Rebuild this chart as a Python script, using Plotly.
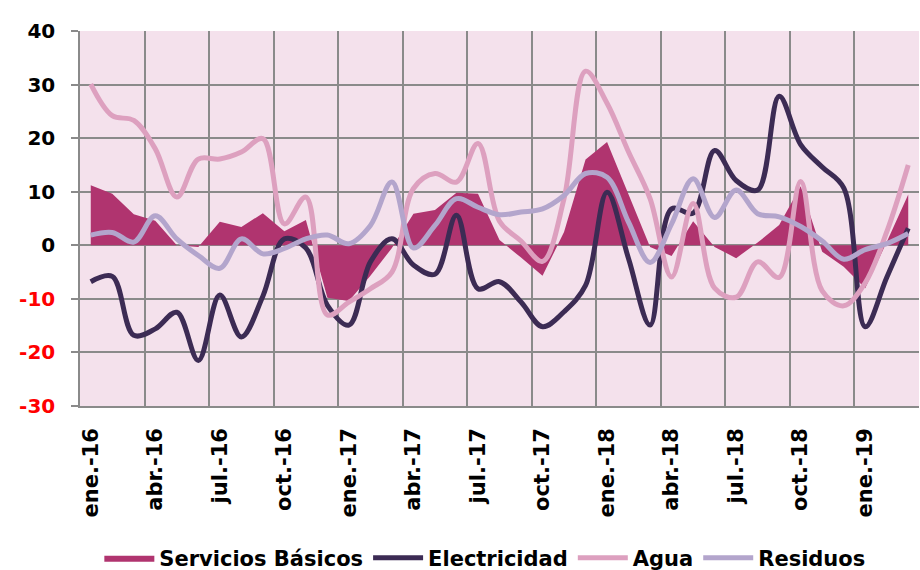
import plotly.graph_objects as go

# Monthly categories (ene.-16 .. mar.-19)
months_es = ["ene.", "feb.", "mar.", "abr.", "may.", "jun.",
             "jul.", "ago.", "sept.", "oct.", "nov.", "dic."]
years = ["16", "17", "18", "19"]
categories = [f"{m}-{y}" for y in years for m in months_es][:39]

servicios_basicos = [11.2, 9.6, 5.8, 4.6, 0.0, -0.3, 4.4, 3.4, 6.0, 2.6,
                     4.7, -9.8, -10.4, -5.7, -0.5, 5.9, 6.6, 9.8, 9.6, 1.0,
                     -2.3, -5.7, 2.5, 16.0, 19.3, 9.4, -0.3, -2.0, 4.5, -0.3,
                     -2.4, 0.5, 3.8, 11.0, -1.2, -4.0, -8.0, 0.6, 9.5]

electricidad = [-6.8, -5.8, -16.8, -15.6, -12.5, -21.5, -9.3, -17.1, -9.5, 1.2,
                -0.5, -11.2, -14.9, -3.1, 1.2, -3.7, -5.4, 5.6, -8.1, -6.8,
                -10.6, -15.2, -12.4, -7.5, 9.9, -2.5, -14.9, 6.8, 6.0, 17.7,
                12.1, 10.3, 27.8, 18.8, 14.6, 10.7, -15.2, -6.0, 3.2]

agua = [30.1, 24.2, 23.3, 18.0, 9.0, 16.1, 16.1, 17.4, 19.9, 4.0,
        9.0, -13.0, -10.6, -8.1, -5.0, 10.6, 13.4, 11.8, 19.0, 4.5,
        0.8, -3.0, 8.7, 32.5, 26.5, 17.4, 8.7, -5.9, 7.8, -8.0,
        -9.7, -3.1, -6.0, 11.9, -8.5, -11.3, -7.0, 2.5, 15.0]

residuos = [1.9, 2.4, 0.6, 5.5, 1.2, -1.9, -4.3, 1.2, -1.6, -0.6,
            1.2, 1.9, 0.3, 3.7, 11.8, -0.5, 3.7, 8.7, 7.1, 5.7,
            6.2, 6.8, 9.3, 13.4, 12.7, 4.3, -3.2, 4.0, 12.4, 5.2,
            10.3, 5.9, 5.3, 3.5, 0.8, -2.6, -0.8, 0.3, 2.2]

y_ticks = [-30, -20, -10, 0, 10, 20, 30, 40]

x = list(range(len(categories)))
label_idx = list(range(0, len(categories), 3))
boundaries = [i - 0.5 for i in range(len(categories) + 1)]
grid_bounds = boundaries[::3]

GRID = "#8a8a8a"
FONT = "DejaVu Sans"

fig = go.Figure()
fig.add_trace(go.Scatter(
    x=x, y=servicios_basicos, name="Servicios Básicos", mode="lines",
    fill="tozeroy", fillcolor="#B0346F", line=dict(color="#B0346F", width=0),
))
fig.add_trace(go.Scatter(
    x=x, y=electricidad, name="Electricidad", mode="lines",
    line=dict(color="#3C2B54", width=5, shape="spline", smoothing=1.0),
))
fig.add_trace(go.Scatter(
    x=x, y=agua, name="Agua", mode="lines",
    line=dict(color="#DDA0BF", width=5, shape="spline", smoothing=1.0),
))
fig.add_trace(go.Scatter(
    x=x, y=residuos, name="Residuos", mode="lines",
    line=dict(color="#B3A5CC", width=5, shape="spline", smoothing=1.0),
))

y_text = [f"<span style='color:#FF0000'>{v}</span>" if v < 0 else str(v) for v in y_ticks]

fig.update_layout(
    width=920, height=570,
    margin=dict(l=80, r=1, t=31, b=164),
    paper_bgcolor="white",
    plot_bgcolor="#F4E1EC",
    font=dict(family=FONT, size=18, color="black"),
    showlegend=True,
    legend=dict(orientation="h", x=0.527, xref="container", xanchor="center",
                y=0.021, yref="container", yanchor="middle",
                font=dict(family=FONT, size=21, weight="bold"),
                itemwidth=50, tracegroupgap=0),
    xaxis=dict(
        range=[-0.5, len(categories) - 0.5],
        tickmode="array", tickvals=label_idx,
        ticktext=[categories[i] for i in label_idx],
        tickangle=-90, ticks="", showgrid=False, zeroline=False,
        showline=True, linecolor=GRID, linewidth=1.5,
        ticklabelstandoff=12,
        tickfont=dict(family=FONT, size=21, weight="bold"),
        minor=dict(tickmode="array", tickvals=grid_bounds, showgrid=True,
                   gridcolor=GRID, gridwidth=1.5),
    ),
    xaxis2=dict(
        overlaying="x", anchor="free", position=30 / 70, side="bottom",
        range=[-0.5, len(categories) - 0.5],
        tickmode="array", tickvals=boundaries, ticks="outside", ticklen=4,
        tickcolor=GRID, tickwidth=1.5, showticklabels=False,
        showgrid=False, zeroline=False, showline=False,
    ),
    yaxis=dict(
        range=[-30, 40], tickmode="array", tickvals=y_ticks, ticktext=y_text,
        showgrid=True, gridcolor=GRID, gridwidth=1.5, zeroline=False,
        showline=True, linecolor=GRID, linewidth=1.5,
        ticks="outside", ticklen=7, tickcolor=GRID, tickwidth=1.5,
        ticklabelstandoff=12,
        tickfont=dict(family=FONT, size=20, weight="bold", color="black"),
    ),
)

fig.write_html("out.html")
